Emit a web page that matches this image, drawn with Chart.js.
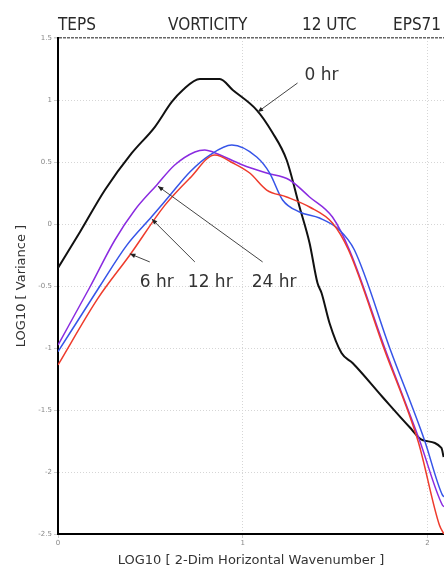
<!DOCTYPE html>
<html>
<head>
<meta charset="utf-8">
<script src="https://cdn.jsdelivr.net/npm/chart.js@4.4.1/dist/chart.umd.min.js"></script>
<style>
  html, body { margin: 0; padding: 0; background: #fff; overflow: hidden; }
  #wrap { width: 444px; height: 572px; }
</style>
</head>
<body>
<div id="wrap"><canvas id="spectrum" width="444" height="572"></canvas></div>
<script>
// values: log10 wavenumber vs log10 variance
const hr0X = [0, 0.119, 0.254, 0.4, 0.524, 0.616, 0.676, 0.768, 0.876, 0.946, 1.076, 1.16, 1.238, 1.308, 1.362, 1.405, 1.427, 1.47, 1.535, 1.595, 1.757, 1.903, 1.973, 2.076, 2.088];
const hr0Y = [-0.355, -0.065, 0.274, 0.573, 0.782, 0.984, 1.081, 1.169, 1.169, 1.081, 0.919, 0.74, 0.516, 0.137, -0.153, -0.476, -0.556, -0.798, -1.04, -1.121, -1.395, -1.637, -1.742, -1.806, -1.88];

const hr6X = [0, 0.216, 0.389, 0.578, 0.714, 0.849, 0.95, 1.038, 1.13, 1.238, 1.362, 1.486, 1.573, 1.768, 1.951, 2.065, 2.09];
const hr6Y = [-1.137, -0.6, -0.25, 0.15, 0.37, 0.556, 0.49, 0.411, 0.274, 0.218, 0.137, 0.008, -0.21, -1.016, -1.758, -2.427, -2.5];

const hr12X = [0, 0.227, 0.373, 0.508, 0.605, 0.714, 0.822, 0.941, 1.076, 1.146, 1.216, 1.308, 1.416, 1.524, 1.605, 1.8, 1.984, 2.081, 2.09];
const hr12Y = [-1.03, -0.5, -0.17, 0.06, 0.23, 0.42, 0.556, 0.637, 0.54, 0.411, 0.194, 0.097, 0.048, -0.048, -0.21, -1.016, -1.742, -2.185, -2.2];

const hr24X = [0, 0.173, 0.308, 0.416, 0.535, 0.632, 0.741, 0.795, 0.838, 1.0, 1.13, 1.254, 1.362, 1.486, 1.578, 1.773, 1.957, 2.081, 2.09];
const hr24Y = [-0.976, -0.508, -0.129, 0.113, 0.315, 0.476, 0.581, 0.597, 0.581, 0.476, 0.411, 0.355, 0.218, 0.056, -0.21, -1.016, -1.742, -2.266, -2.28];

const xTicks = [0, 1, 2];
const yTicks = [1.5, 1, 0.5, 0, -0.5, -1, -1.5, -2, -2.5];

const headerParts = ['TEPS', 'VORTICITY', '12 UTC', 'EPS71'];

// arrow labels, in data coordinates
const notes = [
    { text: '0 hr', at: [1.335, 1.194], from: [1.297, 1.137], to: [1.081, 0.903] },
    { text: '6 hr', at: [0.443, -0.476], from: [0.497, -0.306], to: [0.389, -0.24] },
    { text: '12 hr', at: [0.703, -0.476], from: [0.741, -0.306], to: [0.508, 0.04] },
    { text: '24 hr', at: [1.049, -0.476], from: [1.108, -0.306], to: [0.541, 0.305] }
];

function pts(xs, ys) {
    return xs.map((x, i) => ({ x: x, y: ys[i] }));
}

const headerPlugin = {
    id: 'header',
    afterDraw(chart) {
        const ctx = chart.ctx;
        const xs = [58, 168, 302, 393];
        ctx.save();
        ctx.fillStyle = '#2a2a2a';
        ctx.font = '17px "DejaVu Sans Condensed", "DejaVu Sans"';
        ctx.textBaseline = 'alphabetic';
        headerParts.forEach((t, i) => ctx.fillText(t, xs[i], 30));
        ctx.restore();
    }
};

const notesPlugin = {
    id: 'notes',
    afterDatasetsDraw(chart) {
        const ctx = chart.ctx;
        const sx = chart.scales.x, sy = chart.scales.y;
        ctx.save();
        notes.forEach(n => {
            const x1 = sx.getPixelForValue(n.from[0]), y1 = sy.getPixelForValue(n.from[1]);
            const x2 = sx.getPixelForValue(n.to[0]), y2 = sy.getPixelForValue(n.to[1]);
            ctx.strokeStyle = '#444';
            ctx.fillStyle = '#222';
            ctx.lineWidth = 1;
            ctx.beginPath();
            ctx.moveTo(x1, y1);
            ctx.lineTo(x2, y2);
            ctx.stroke();
            // arrow head
            const a = Math.atan2(y2 - y1, x2 - x1);
            ctx.beginPath();
            ctx.moveTo(x2, y2);
            ctx.lineTo(x2 - 6 * Math.cos(a - 0.4), y2 - 6 * Math.sin(a - 0.4));
            ctx.lineTo(x2 - 6 * Math.cos(a + 0.4), y2 - 6 * Math.sin(a + 0.4));
            ctx.closePath();
            ctx.fill();

            ctx.fillStyle = '#333';
            ctx.font = '17px "DejaVu Sans"';
            ctx.textBaseline = 'middle';
            ctx.fillText(n.text, sx.getPixelForValue(n.at[0]), sy.getPixelForValue(n.at[1]));
        });
        ctx.restore();
    }
};

const lineStyle = {
    pointRadius: 0,
    fill: false,
    cubicInterpolationMode: 'monotone'
};

const ctx = document.getElementById('spectrum').getContext('2d');
Chart.defaults.font.family = '"DejaVu Sans"';

const spectrumChart = new Chart(ctx, {
    type: 'line',
    data: {
        datasets: [
            { label: '6 hr', data: pts(hr6X, hr6Y), borderColor: '#ee3b2c', borderWidth: 1.5, ...lineStyle },
            { label: '12 hr', data: pts(hr12X, hr12Y), borderColor: '#3654e8', borderWidth: 1.5, ...lineStyle },
            { label: '24 hr', data: pts(hr24X, hr24Y), borderColor: '#8a2be0', borderWidth: 1.5, ...lineStyle },
            { label: '0 hr', data: pts(hr0X, hr0Y), borderColor: '#111', borderWidth: 2, ...lineStyle }
        ]
    },
    options: {
        responsive: false,
        animation: false,
        devicePixelRatio: 1,
        layout: { padding: { top: 38, right: 0, bottom: 0, left: 0 } },
        plugins: {
            legend: { display: false },
            tooltip: { enabled: false }
        },
        scales: {
            x: {
                type: 'linear',
                min: 0,
                max: 2.09,
                afterBuildTicks: s => {
                    s.ticks = xTicks.map(v => ({ value: v }));
                },
                afterFit: s => { s.height = 38; },
                ticks: { color: '#888', font: { size: 7 }, padding: 1, maxRotation: 0 },
                grid: {
                    color: c => (c.tick && c.tick.value === 0) ? 'rgba(0,0,0,0)' : '#d6d6d6',
                    tickLength: 4,
                    tickColor: '#ccc'
                },
                border: { color: '#000', width: 2, dash: [1, 2] },
                title: {
                    display: true,
                    text: 'LOG10 [ 2-Dim Horizontal Wavenumber ]',
                    color: '#333',
                    font: { size: 13 },
                    padding: { top: 0, bottom: 4 }
                }
            },
            y: {
                type: 'linear',
                min: -2.5,
                max: 1.5,
                afterBuildTicks: s => {
                    s.ticks = yTicks.map(v => ({ value: v }));
                },
                afterFit: s => { s.width = 58; },
                ticks: {
                    color: '#888',
                    font: { size: 7 },
                    padding: 2,
                    callback: v => String(v)
                },
                grid: {
                    color: c => (c.tick && c.tick.value === 1.5) ? '#666' : '#d6d6d6',
                    lineWidth: c => (c.tick && c.tick.value === 1.5) ? 1.5 : 1,
                    tickLength: 4,
                    tickColor: '#ccc'
                },
                border: {
                    color: '#000',
                    width: 2,
                    dash: c => (c.tick && c.tick.value === 1.5) ? [3, 1] : [1, 2]
                },
                title: {
                    display: true,
                    text: 'LOG10 [ Variance ]',
                    color: '#333',
                    font: { size: 13 },
                    padding: { top: 14, bottom: 0 }
                }
            }
        }
    },
    plugins: [headerPlugin, notesPlugin]
});
</script>
</body>
</html>
